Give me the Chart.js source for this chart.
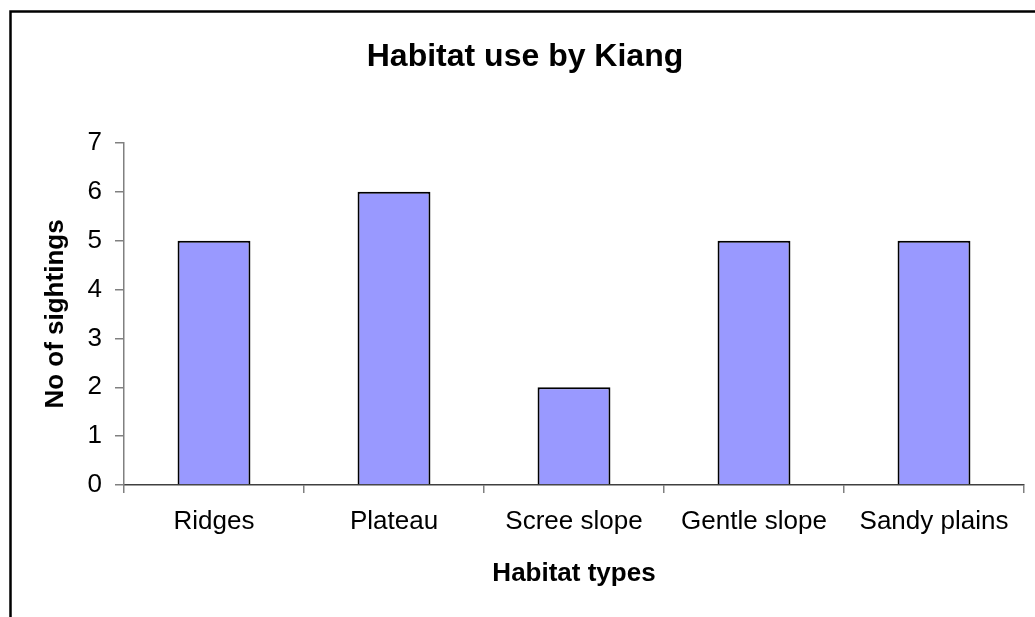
<!DOCTYPE html>
<html>
<head>
<meta charset="utf-8">
<script src="https://cdn.jsdelivr.net/npm/chart.js@4/dist/chart.umd.min.js"></script>
<style>
  body { margin: 0; background: #fff; }
  #wrap { width: 1035px; height: 617px; }
</style>
</head>
<body>
<div id="wrap"><canvas id="chart" width="1035" height="617"></canvas></div>
<script>
// DATA
const habitats = ["Ridges", "Plateau", "Scree slope", "Gentle slope", "Sandy plains"];
const sightings = [5, 6, 2, 5, 5];
const yMin = 0, yMax = 7, yStep = 1;

// outer frame (cut off at the right and bottom like the source image)
const framePlugin = {
  id: "frame",
  beforeDraw(chart) {
    const ctx = chart.ctx;
    ctx.save();
    ctx.fillStyle = "#fff";
    ctx.fillRect(0, 0, chart.width, chart.height);
    ctx.strokeStyle = "#000";
    ctx.lineWidth = 2.5;
    ctx.beginPath();
    ctx.moveTo(10.5, chart.height + 5);
    ctx.lineTo(10.5, 11.5);
    ctx.lineTo(chart.width + 5, 11.5);
    ctx.stroke();
    ctx.restore();
  }
};

Chart.defaults.font.family = "Arial, 'Liberation Sans', sans-serif";
Chart.defaults.color = "#000";

new Chart(document.getElementById("chart"), {
  type: "bar",
  data: {
    labels: habitats,
    datasets: [{
      label: "No of sightings",
      data: sightings,
      backgroundColor: "#9999ff",
      borderColor: "#000",
      borderWidth: 2,
      barPercentage: 0.405,
      categoryPercentage: 1
    }]
  },
  options: {
    responsive: false,
    animation: false,
    layout: { padding: { left: 26, right: 11, top: 0, bottom: 0 } },
    plugins: {
      legend: { display: false },
      tooltip: { enabled: false },
      title: {
        display: true,
        text: "Habitat use by Kiang",
        font: { size: 32, weight: "bold" },
        padding: { top: 38, bottom: 66.6 }
      }
    },
    scales: {
      x: {
        afterFit(s) { s.height = 132; },
        grid: { offset: true, drawOnChartArea: false, drawTicks: true, tickLength: 8, color: "#808080", lineWidth: 1.5 },
        border: { display: true, color: "#404040", width: 1.5 },
        ticks: { font: { size: 26 }, padding: 13, maxRotation: 0, autoSkip: false },
        title: { display: true, text: "Habitat types", font: { size: 26, weight: "bold" }, padding: { top: 0, bottom: 27.4 } }
      },
      y: {
        min: yMin,
        max: yMax,
        afterFit(s) { s.width = 98; },
        grid: { drawOnChartArea: false, drawTicks: true, tickLength: 9, color: "#808080", lineWidth: 1.5 },
        border: { display: true, color: "#808080", width: 1.5 },
        ticks: { stepSize: yStep, font: { size: 26 }, padding: 13 },
        title: { display: true, text: "No of sightings", font: { size: 26, weight: "bold" }, padding: { top: 14.4, bottom: 0 } }
      }
    }
  },
  plugins: [framePlugin]
});
</script>
</body>
</html>
